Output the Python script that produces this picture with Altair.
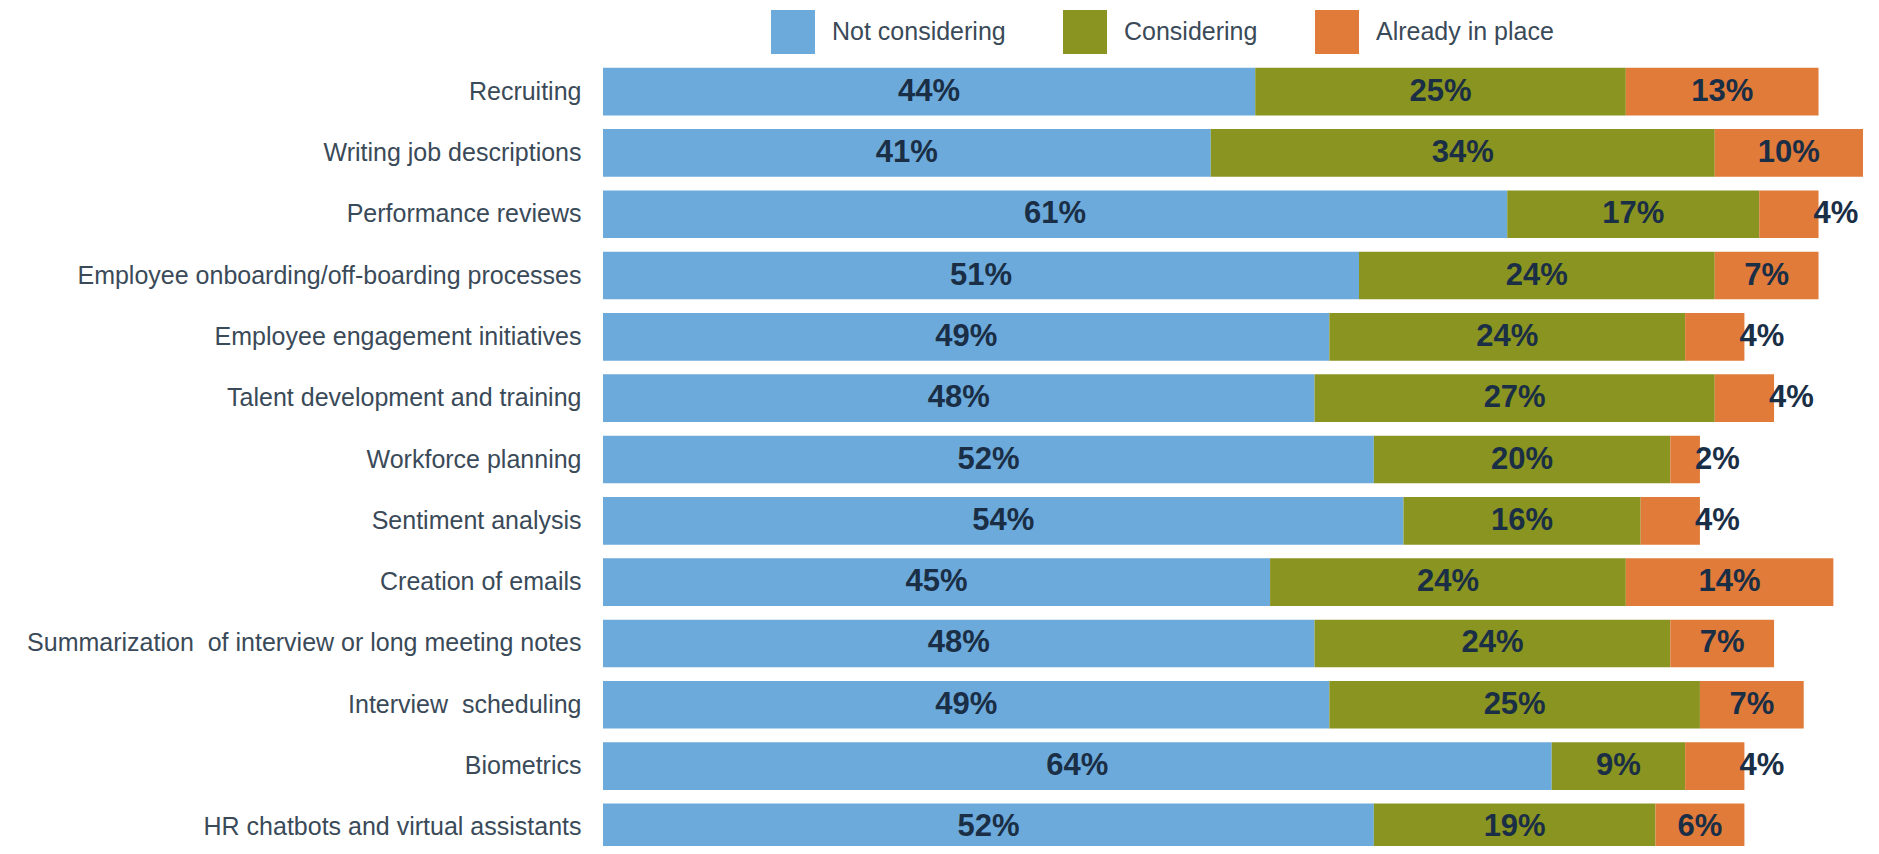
import altair as alt
import pandas as pd

categories = [
    "Recruiting",
    "Writing job descriptions",
    "Performance reviews",
    "Employee onboarding/off-boarding processes",
    "Employee engagement initiatives",
    "Talent development and training",
    "Workforce planning",
    "Sentiment analysis",
    "Creation of emails",
    "Summarization\u00a0 of interview or long meeting notes",
    "Interview\u00a0 scheduling",
    "Biometrics",
    "HR chatbots and virtual assistants",
]
series_names = ["Not considering", "Considering", "Already in place"]
not_considering = [44, 41, 61, 51, 49, 48, 52, 54, 45, 48, 49, 64, 52]
considering = [25, 34, 17, 24, 24, 27, 20, 16, 24, 24, 25, 9, 19]
already_in_place = [13, 10, 4, 7, 4, 4, 2, 4, 14, 7, 7, 4, 6]
colors = ["#6CAADB", "#8A9420", "#E07B3A"]

rows = []
for i, cat in enumerate(categories):
    start = 0
    for j, (name, vals) in enumerate(zip(series_names, [not_considering, considering, already_in_place])):
        v = vals[i]
        rows.append({
            "category": cat,
            "series": name,
            "order": j,
            "value": v,
            "start": start,
            "end": start + v,
            "mid": start + v / 2,
            "label": f"{v}%",
            "small": (j == 2 and v <= 4),
        })
        start += v
df = pd.DataFrame(rows)

FONT = "Liberation Sans"

y_enc = alt.Y(
    "category:N",
    sort=categories,
    scale=alt.Scale(range=[0, 797], paddingInner=0.223, paddingOuter=0.11),
    axis=alt.Axis(
        title=None, ticks=False, domain=False, labelFontSize=25,
        labelFont=FONT, labelColor="#3A4A58", labelPadding=22, labelLimit=700,
    ),
)
x_scale = alt.Scale(domain=[0, 85])

bars = alt.Chart(df).mark_bar().encode(
    y=y_enc,
    x=alt.X("start:Q", scale=x_scale, axis=None),
    x2="end:Q",
    color=alt.Color(
        "series:N",
        scale=alt.Scale(domain=series_names, range=colors),
        legend=alt.Legend(
            title=None, orient="none", direction="horizontal",
            legendX=168, legendY=-51, symbolType="square", symbolSize=1936,
            symbolStrokeWidth=0, symbolOpacity=1, labelFontSize=25, labelFont=FONT,
            labelColor="#3A4A58", labelOffset=17, columnPadding=57, padding=0,
            labelLimit=500,
        ),
    ),
)

text_center = alt.Chart(df).transform_filter("!datum.small").mark_text(
    fontSize=31, fontWeight="bold", font=FONT, color="#1A2E45", align="center", baseline="middle"
).encode(
    y=alt.Y("category:N", sort=categories),
    x=alt.X("mid:Q", scale=x_scale),
    text="label:N",
)

text_small = alt.Chart(df).transform_filter("datum.small").mark_text(
    fontSize=31, fontWeight="bold", font=FONT, color="#1A2E45", align="left", baseline="middle", dx=-5
).encode(
    y=alt.Y("category:N", sort=categories),
    x=alt.X("end:Q", scale=x_scale),
    text="label:N",
)

chart = alt.layer(bars, text_center, text_small).properties(
    width=1260,
    height=785,
    autosize=alt.AutoSizeParams(type="none"),
    padding={"left": 595, "top": 53, "right": 0, "bottom": 0},
).configure_view(stroke=None)

chart.save("out.html", embed_options={"renderer": "svg", "actions": False})
